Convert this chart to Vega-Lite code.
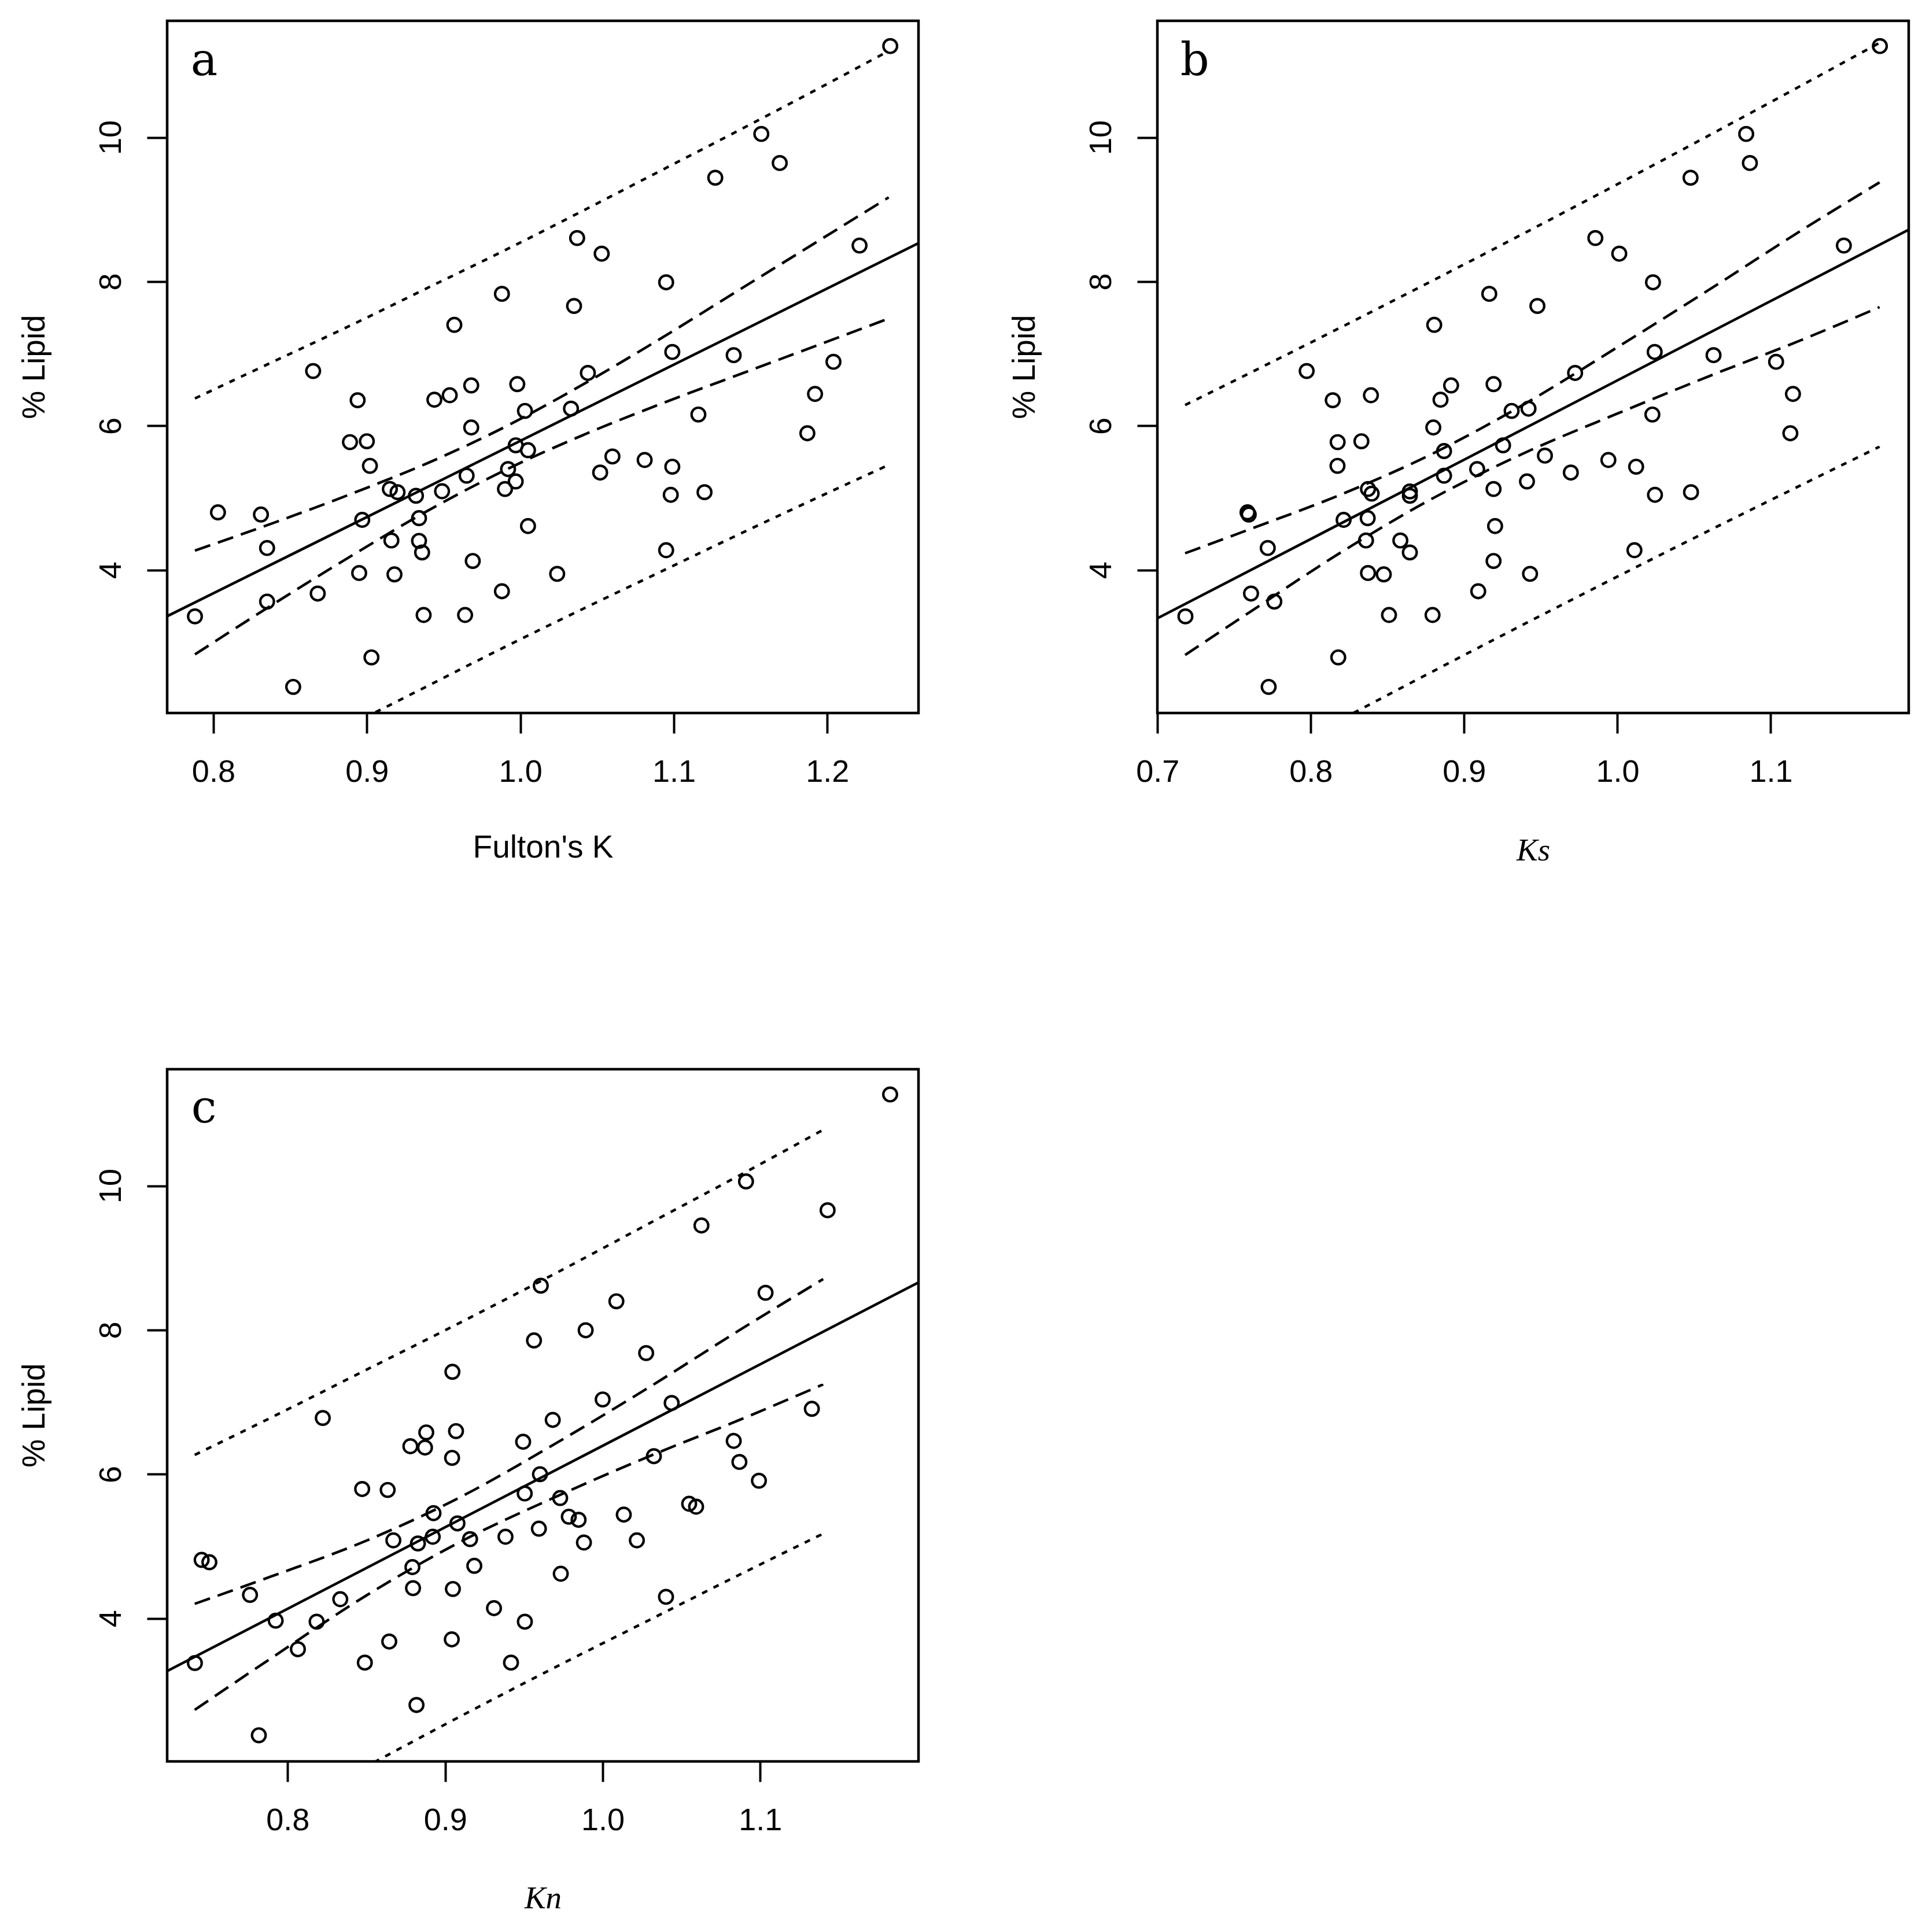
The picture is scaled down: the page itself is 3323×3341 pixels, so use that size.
{
  "$schema": "https://vega.github.io/schema/vega-lite/v6.json",
  "background": "white",
  "padding": {"left": 29, "top": 33, "right": 5, "bottom": 5},
  "bounds": "flush",
  "columns": 2,
  "spacing": {"row": 616, "column": 413},
  "datasets": {
    "pts": [
      {"p":"a","x":0.988,"y":7.83},{"p":"a","x":0.957,"y":7.40},{"p":"a","x":0.865,"y":6.76},{"p":"a","x":0.894,"y":6.355},{"p":"a","x":0.944,"y":6.362},{"p":"a","x":0.954,"y":6.424},{"p":"a","x":0.968,"y":6.56},{"p":"a","x":0.998,"y":6.578},{"p":"a","x":1.003,"y":6.207},{"p":"a","x":0.889,"y":5.774},{"p":"a","x":0.900,"y":5.786},{"p":"a","x":0.968,"y":5.977},{"p":"a","x":0.902,"y":5.445},{"p":"a","x":0.997,"y":5.73},{"p":"a","x":1.005,"y":5.662},{"p":"a","x":0.915,"y":5.124},{"p":"a","x":0.920,"y":5.08},{"p":"a","x":0.932,"y":5.03},{"p":"a","x":0.949,"y":5.093},{"p":"a","x":0.965,"y":5.309},{"p":"a","x":0.992,"y":5.40},{"p":"a","x":0.990,"y":5.124},{"p":"a","x":0.997,"y":5.229},{"p":"a","x":1.005,"y":4.61},{"p":"a","x":0.803,"y":4.80},{"p":"a","x":0.831,"y":4.77},{"p":"a","x":0.897,"y":4.696},{"p":"a","x":0.934,"y":4.72},{"p":"a","x":0.835,"y":4.306},{"p":"a","x":0.916,"y":4.41},{"p":"a","x":0.934,"y":4.405},{"p":"a","x":0.936,"y":4.244},{"p":"a","x":0.969,"y":4.126},{"p":"a","x":0.895,"y":3.959},{"p":"a","x":0.918,"y":3.94},{"p":"a","x":0.988,"y":3.706},{"p":"a","x":0.868,"y":3.674},{"p":"a","x":0.835,"y":3.563},{"p":"a","x":0.937,"y":3.377},{"p":"a","x":0.964,"y":3.377},{"p":"a","x":0.788,"y":3.358},{"p":"a","x":0.903,"y":2.789},{"p":"a","x":0.852,"y":2.38},
      {"p":"a","x":1.241,"y":11.266},{"p":"a","x":1.157,"y":10.047},{"p":"a","x":1.169,"y":9.644},{"p":"a","x":1.127,"y":9.44},{"p":"a","x":1.037,"y":8.604},{"p":"a","x":1.053,"y":8.387},{"p":"a","x":1.221,"y":8.50},{"p":"a","x":1.095,"y":7.99},{"p":"a","x":1.035,"y":7.662},{"p":"a","x":1.099,"y":7.024},{"p":"a","x":1.044,"y":6.733},{"p":"a","x":1.139,"y":6.98},{"p":"a","x":1.204,"y":6.888},{"p":"a","x":1.033,"y":6.238},{"p":"a","x":1.192,"y":6.442},{"p":"a","x":1.116,"y":6.157},{"p":"a","x":1.187,"y":5.897},{"p":"a","x":1.060,"y":5.575},{"p":"a","x":1.052,"y":5.352},{"p":"a","x":1.081,"y":5.526},{"p":"a","x":1.099,"y":5.433},{"p":"a","x":1.098,"y":5.043},{"p":"a","x":1.120,"y":5.08},{"p":"a","x":1.095,"y":4.275},{"p":"a","x":1.024,"y":3.947},
      {"p":"b","x":0.9164,"y":7.83},{"p":"b","x":0.8805,"y":7.40},{"p":"b","x":0.7973,"y":6.76},{"p":"b","x":0.8143,"y":6.355},{"p":"b","x":0.8392,"y":6.424},{"p":"b","x":0.8846,"y":6.362},{"p":"b","x":0.8915,"y":6.56},{"p":"b","x":0.9192,"y":6.578},{"p":"b","x":0.8175,"y":5.774},{"p":"b","x":0.833,"y":5.786},{"p":"b","x":0.8799,"y":5.977},{"p":"b","x":0.8174,"y":5.445},{"p":"b","x":0.9254,"y":5.73},{"p":"b","x":0.931,"y":6.207},{"p":"b","x":0.942,"y":6.238},{"p":"b","x":0.8869,"y":5.65},{"p":"b","x":0.9085,"y":5.40},{"p":"b","x":0.8373,"y":5.124},{"p":"b","x":0.8397,"y":5.06},{"p":"b","x":0.8646,"y":5.09},{"p":"b","x":0.8646,"y":5.03},{"p":"b","x":0.8869,"y":5.309},{"p":"b","x":0.9192,"y":5.124},{"p":"b","x":0.941,"y":5.229},{"p":"b","x":0.9202,"y":4.61},{"p":"b","x":0.7587,"y":4.80},{"p":"b","x":0.7595,"y":4.77},{"p":"b","x":0.8214,"y":4.696},{"p":"b","x":0.8371,"y":4.72},{"p":"b","x":0.7719,"y":4.306},{"p":"b","x":0.836,"y":4.41},{"p":"b","x":0.8584,"y":4.41},{"p":"b","x":0.8646,"y":4.244},{"p":"b","x":0.9192,"y":4.126},{"p":"b","x":0.8373,"y":3.959},{"p":"b","x":0.8476,"y":3.94},{"p":"b","x":0.943,"y":3.947},{"p":"b","x":0.9092,"y":3.706},{"p":"b","x":0.761,"y":3.674},{"p":"b","x":0.7762,"y":3.563},{"p":"b","x":0.851,"y":3.377},{"p":"b","x":0.8794,"y":3.377},{"p":"b","x":0.7182,"y":3.358},{"p":"b","x":0.8179,"y":2.789},{"p":"b","x":0.7725,"y":2.38},{"p":"b","x":0.9478,"y":7.662},{"p":"b","x":0.9527,"y":5.587},
      {"p":"b","x":1.1712,"y":11.266},{"p":"b","x":1.084,"y":10.047},{"p":"b","x":1.0864,"y":9.644},{"p":"b","x":1.0477,"y":9.44},{"p":"b","x":0.9856,"y":8.604},{"p":"b","x":1.0012,"y":8.387},{"p":"b","x":1.1477,"y":8.50},{"p":"b","x":1.0232,"y":7.99},{"p":"b","x":1.0243,"y":7.024},{"p":"b","x":0.9724,"y":6.733},{"p":"b","x":1.0627,"y":6.98},{"p":"b","x":1.1035,"y":6.888},{"p":"b","x":1.1145,"y":6.442},{"p":"b","x":1.0228,"y":6.157},{"p":"b","x":1.1128,"y":5.897},{"p":"b","x":0.9696,"y":5.352},{"p":"b","x":0.9941,"y":5.526},{"p":"b","x":1.0122,"y":5.433},{"p":"b","x":1.0245,"y":5.043},{"p":"b","x":1.048,"y":5.08},{"p":"b","x":1.0111,"y":4.275},
      {"p":"c","x":0.9607,"y":8.614},{"p":"c","x":0.9564,"y":7.855},{"p":"c","x":0.9046,"y":7.42},{"p":"c","x":0.8223,"y":6.78},{"p":"c","x":0.888,"y":6.58},{"p":"c","x":0.9069,"y":6.598},{"p":"c","x":0.8779,"y":6.388},{"p":"c","x":0.8872,"y":6.37},{"p":"c","x":0.9044,"y":6.227},{"p":"c","x":0.9495,"y":6.45},{"p":"c","x":0.8473,"y":5.795},{"p":"c","x":0.8635,"y":5.782},{"p":"c","x":0.9505,"y":5.733},{"p":"c","x":0.9602,"y":6.0},{"p":"c","x":0.8926,"y":5.46},{"p":"c","x":0.9078,"y":5.318},{"p":"c","x":0.9595,"y":5.245},{"p":"c","x":0.8671,"y":5.083},{"p":"c","x":0.8827,"y":5.04},{"p":"c","x":0.8921,"y":5.133},{"p":"c","x":0.9158,"y":5.10},{"p":"c","x":0.9383,"y":5.133},{"p":"c","x":0.7454,"y":4.812},{"p":"c","x":0.7503,"y":4.78},{"p":"c","x":0.8792,"y":4.712},{"p":"c","x":0.9185,"y":4.73},{"p":"c","x":0.7761,"y":4.327},{"p":"c","x":0.8796,"y":4.42},{"p":"c","x":0.9049,"y":4.409},{"p":"c","x":0.8334,"y":4.267},{"p":"c","x":0.931,"y":4.143},{"p":"c","x":0.7924,"y":3.97},{"p":"c","x":0.8184,"y":3.955},{"p":"c","x":0.9506,"y":3.955},{"p":"c","x":0.8645,"y":3.68},{"p":"c","x":0.9042,"y":3.71},{"p":"c","x":0.8065,"y":3.574},{"p":"c","x":0.7411,"y":3.382},{"p":"c","x":0.849,"y":3.388},{"p":"c","x":0.9418,"y":3.388},{"p":"c","x":0.8818,"y":2.8},{"p":"c","x":0.7817,"y":2.38},
      {"p":"c","x":1.1825,"y":11.266},{"p":"c","x":1.091,"y":10.06},{"p":"c","x":1.1428,"y":9.66},{"p":"c","x":1.0627,"y":9.449},{"p":"c","x":1.0087,"y":8.398},{"p":"c","x":1.1034,"y":8.516},{"p":"c","x":0.9892,"y":7.996},{"p":"c","x":1.0276,"y":7.68},{"p":"c","x":1.0,"y":7.037},{"p":"c","x":0.9683,"y":6.753},{"p":"c","x":1.0438,"y":6.988},{"p":"c","x":1.1328,"y":6.907},{"p":"c","x":1.0832,"y":6.462},{"p":"c","x":1.0868,"y":6.17},{"p":"c","x":1.0992,"y":5.91},{"p":"c","x":1.0325,"y":6.25},{"p":"c","x":0.973,"y":5.67},{"p":"c","x":0.9785,"y":5.411},{"p":"c","x":0.9847,"y":5.368},{"p":"c","x":1.0134,"y":5.44},{"p":"c","x":1.0549,"y":5.59},{"p":"c","x":1.0593,"y":5.55},{"p":"c","x":0.9881,"y":5.053},{"p":"c","x":1.0217,"y":5.083},{"p":"c","x":0.9734,"y":4.62},{"p":"c","x":1.0402,"y":4.30}
    ],
    "fit": [
      {"p":"a","x":0.7699,"y":3.36},{"p":"a","x":1.2594,"y":8.533},
      {"p":"b","x":0.6999,"y":3.33},{"p":"b","x":1.19,"y":8.72},
      {"p":"c","x":0.7235,"y":3.27},{"p":"c","x":1.2005,"y":8.66}
    ],
    "band": [
      {"p":"a","k":"cu","x":0.788,"y":4.27},{"p":"a","k":"cu","x":0.84,"y":4.66},{"p":"a","k":"cu","x":0.89,"y":5.058},{"p":"a","k":"cu","x":0.94,"y":5.487},{"p":"a","k":"cu","x":0.99,"y":5.985},{"p":"a","k":"cu","x":1.04,"y":6.564},{"p":"a","k":"cu","x":1.09,"y":7.192},{"p":"a","k":"cu","x":1.14,"y":7.851},{"p":"a","k":"cu","x":1.19,"y":8.509},{"p":"a","k":"cu","x":1.24,"y":9.168},
      {"p":"a","k":"cl","x":0.788,"y":2.83},{"p":"a","k":"cl","x":0.84,"y":3.54},{"p":"a","k":"cl","x":0.89,"y":4.198},{"p":"a","k":"cl","x":0.94,"y":4.827},{"p":"a","k":"cl","x":0.99,"y":5.385},{"p":"a","k":"cl","x":1.04,"y":5.864},{"p":"a","k":"cl","x":1.09,"y":6.292},{"p":"a","k":"cl","x":1.14,"y":6.691},{"p":"a","k":"cl","x":1.19,"y":7.089},{"p":"a","k":"cl","x":1.24,"y":7.488},
      {"p":"a","k":"pu","x":0.788,"y":6.38},{"p":"a","k":"pu","x":0.84,"y":6.90},{"p":"a","k":"pu","x":0.89,"y":7.398},{"p":"a","k":"pu","x":0.94,"y":7.917},{"p":"a","k":"pu","x":0.99,"y":8.435},{"p":"a","k":"pu","x":1.04,"y":8.974},{"p":"a","k":"pu","x":1.09,"y":9.522},{"p":"a","k":"pu","x":1.14,"y":10.071},{"p":"a","k":"pu","x":1.19,"y":10.629},{"p":"a","k":"pu","x":1.24,"y":11.198},
      {"p":"a","k":"pl","x":0.788,"y":0.72},{"p":"a","k":"pl","x":0.84,"y":1.30},{"p":"a","k":"pl","x":0.89,"y":1.858},{"p":"a","k":"pl","x":0.94,"y":2.397},{"p":"a","k":"pl","x":0.99,"y":2.935},{"p":"a","k":"pl","x":1.04,"y":3.454},{"p":"a","k":"pl","x":1.09,"y":3.962},{"p":"a","k":"pl","x":1.14,"y":4.471},{"p":"a","k":"pl","x":1.19,"y":4.969},{"p":"a","k":"pl","x":1.24,"y":5.458},
      {"p":"b","k":"cu","x":0.718,"y":4.233},{"p":"b","k":"cu","x":0.76,"y":4.565},{"p":"b","k":"cu","x":0.82,"y":5.05},{"p":"b","k":"cu","x":0.88,"y":5.62},{"p":"b","k":"cu","x":0.94,"y":6.31},{"p":"b","k":"cu","x":1.0,"y":7.09},{"p":"b","k":"cu","x":1.06,"y":7.89},{"p":"b","k":"cu","x":1.12,"y":8.71},{"p":"b","k":"cu","x":1.171,"y":9.376},
      {"p":"b","k":"cl","x":0.718,"y":2.823},{"p":"b","k":"cl","x":0.76,"y":3.415},{"p":"b","k":"cl","x":0.82,"y":4.25},{"p":"b","k":"cl","x":0.88,"y":5.0},{"p":"b","k":"cl","x":0.94,"y":5.63},{"p":"b","k":"cl","x":1.0,"y":6.17},{"p":"b","k":"cl","x":1.06,"y":6.69},{"p":"b","k":"cl","x":1.12,"y":7.19},{"p":"b","k":"cl","x":1.171,"y":7.646},
      {"p":"b","k":"pu","x":0.718,"y":6.288},{"p":"b","k":"pu","x":0.76,"y":6.73},{"p":"b","k":"pu","x":0.82,"y":7.37},{"p":"b","k":"pu","x":0.88,"y":8.02},{"p":"b","k":"pu","x":0.94,"y":8.68},{"p":"b","k":"pu","x":1.0,"y":9.35},{"p":"b","k":"pu","x":1.06,"y":10.03},{"p":"b","k":"pu","x":1.12,"y":10.72},{"p":"b","k":"pu","x":1.171,"y":11.311},
      {"p":"b","k":"pl","x":0.718,"y":0.768},{"p":"b","k":"pl","x":0.76,"y":1.25},{"p":"b","k":"pl","x":0.82,"y":1.93},{"p":"b","k":"pl","x":0.88,"y":2.60},{"p":"b","k":"pl","x":0.94,"y":3.26},{"p":"b","k":"pl","x":1.0,"y":3.91},{"p":"b","k":"pl","x":1.06,"y":4.55},{"p":"b","k":"pl","x":1.12,"y":5.18},{"p":"b","k":"pl","x":1.171,"y":5.711},
      {"p":"c","k":"cu","x":0.741,"y":4.203},{"p":"c","k":"cu","x":0.79,"y":4.586},{"p":"c","k":"cu","x":0.85,"y":5.079},{"p":"c","k":"cu","x":0.91,"y":5.687},{"p":"c","k":"cu","x":0.97,"y":6.425},{"p":"c","k":"cu","x":1.03,"y":7.213},{"p":"c","k":"cu","x":1.09,"y":8.041},{"p":"c","k":"cu","x":1.14,"y":8.706},
      {"p":"c","k":"cl","x":0.741,"y":2.733},{"p":"c","k":"cl","x":0.79,"y":3.456},{"p":"c","k":"cl","x":0.85,"y":4.319},{"p":"c","k":"cl","x":0.91,"y":5.067},{"p":"c","k":"cl","x":0.97,"y":5.685},{"p":"c","k":"cl","x":1.03,"y":6.253},{"p":"c","k":"cl","x":1.09,"y":6.781},{"p":"c","k":"cl","x":1.14,"y":7.246},
      {"p":"c","k":"pu","x":0.741,"y":6.268},{"p":"c","k":"pu","x":0.79,"y":6.791},{"p":"c","k":"pu","x":0.85,"y":7.449},{"p":"c","k":"pu","x":0.91,"y":8.107},{"p":"c","k":"pu","x":0.97,"y":8.785},{"p":"c","k":"pu","x":1.03,"y":9.483},{"p":"c","k":"pu","x":1.09,"y":10.181},{"p":"c","k":"pu","x":1.14,"y":10.776},
      {"p":"c","k":"pl","x":0.741,"y":0.668},{"p":"c","k":"pl","x":0.79,"y":1.251},{"p":"c","k":"pl","x":0.85,"y":1.949},{"p":"c","k":"pl","x":0.91,"y":2.647},{"p":"c","k":"pl","x":0.97,"y":3.325},{"p":"c","k":"pl","x":1.03,"y":3.983},{"p":"c","k":"pl","x":1.09,"y":4.641},{"p":"c","k":"pl","x":1.14,"y":5.176}
    ],
    "lab": [{"p":"a","t":"a"},{"p":"b","t":"b"},{"p":"c","t":"c"}]
  },
  "concat": [
    {
      "width": 1299, "height": 1197,
      "layer": [
        {"data": {"name": "pts"}, "transform": [{"filter": "datum.p === 'a'"}], "mark": {"type": "point", "shape": "circle", "filled": false, "color": "black", "strokeWidth": 4.2, "size": 560, "opacity": 1},
         "encoding": {
           "x": {"field": "x", "type": "quantitative", "title": "Fulton's K", "scale": {"domain": [0.7699, 1.2594], "nice": false, "zero": false}, "axis": {"values": [0.8, 0.9, 1.0, 1.1, 1.2], "format": ".1f"}},
           "y": {"field": "y", "type": "quantitative", "title": "% Lipid", "scale": {"domain": [2.018, 11.616], "nice": false, "zero": false}, "axis": {"values": [4, 6, 8, 10], "format": ".0f"}}
         }},
        {"data": {"name": "fit"}, "transform": [{"filter": "datum.p === 'a'"}], "mark": {"type": "line", "color": "black", "strokeWidth": 4.5, "clip": true},
         "encoding": {"x": {"field": "x", "type": "quantitative", "title": "Fulton's K"}, "y": {"field": "y", "type": "quantitative", "title": "% Lipid"}}},
        {"data": {"name": "band"}, "transform": [{"filter": "datum.p === 'a' && (datum.k === 'cu' || datum.k === 'cl')"}], "mark": {"type": "line", "color": "black", "strokeWidth": 4.5, "strokeDash": [28, 14], "interpolate": "monotone", "clip": true},
         "encoding": {"x": {"field": "x", "type": "quantitative", "title": "Fulton's K"}, "y": {"field": "y", "type": "quantitative", "title": "% Lipid"}, "detail": {"field": "k"}}},
        {"data": {"name": "band"}, "transform": [{"filter": "datum.p === 'a' && (datum.k === 'pu' || datum.k === 'pl')"}], "mark": {"type": "line", "color": "black", "strokeWidth": 4.5, "strokeDash": [10, 12], "interpolate": "monotone", "clip": true},
         "encoding": {"x": {"field": "x", "type": "quantitative", "title": "Fulton's K"}, "y": {"field": "y", "type": "quantitative", "title": "% Lipid"}, "detail": {"field": "k"}}},
        {"data": {"name": "lab"}, "transform": [{"filter": "datum.p === 'a'"}], "mark": {"type": "text", "font": "DejaVu Serif", "fontSize": 78, "align": "left", "baseline": "alphabetic", "color": "black"},
         "encoding": {"x": {"datum": 0.7853, "type": "quantitative"}, "y": {"datum": 10.862, "type": "quantitative"}, "text": {"field": "t"}}}
      ]
    },
    {
      "width": 1299, "height": 1197,
      "layer": [
        {"data": {"name": "pts"}, "transform": [{"filter": "datum.p === 'b'"}], "mark": {"type": "point", "shape": "circle", "filled": false, "color": "black", "strokeWidth": 4.2, "size": 560, "opacity": 1},
         "encoding": {
           "x": {"field": "x", "type": "quantitative", "title": "Ks", "scale": {"domain": [0.6999, 1.19], "nice": false, "zero": false}, "axis": {"values": [0.7, 0.8, 0.9, 1.0, 1.1], "format": ".1f", "titleFont": "Liberation Serif", "titleFontStyle": "italic", "titleY": 254}},
           "y": {"field": "y", "type": "quantitative", "title": "% Lipid", "scale": {"domain": [2.018, 11.616], "nice": false, "zero": false}, "axis": {"values": [4, 6, 8, 10], "format": ".0f"}}
         }},
        {"data": {"name": "fit"}, "transform": [{"filter": "datum.p === 'b'"}], "mark": {"type": "line", "color": "black", "strokeWidth": 4.5, "clip": true},
         "encoding": {"x": {"field": "x", "type": "quantitative", "title": "Ks"}, "y": {"field": "y", "type": "quantitative", "title": "% Lipid"}}},
        {"data": {"name": "band"}, "transform": [{"filter": "datum.p === 'b' && (datum.k === 'cu' || datum.k === 'cl')"}], "mark": {"type": "line", "color": "black", "strokeWidth": 4.5, "strokeDash": [28, 14], "interpolate": "monotone", "clip": true},
         "encoding": {"x": {"field": "x", "type": "quantitative", "title": "Ks"}, "y": {"field": "y", "type": "quantitative", "title": "% Lipid"}, "detail": {"field": "k"}}},
        {"data": {"name": "band"}, "transform": [{"filter": "datum.p === 'b' && (datum.k === 'pu' || datum.k === 'pl')"}], "mark": {"type": "line", "color": "black", "strokeWidth": 4.5, "strokeDash": [10, 12], "interpolate": "monotone", "clip": true},
         "encoding": {"x": {"field": "x", "type": "quantitative", "title": "Ks"}, "y": {"field": "y", "type": "quantitative", "title": "% Lipid"}, "detail": {"field": "k"}}},
        {"data": {"name": "lab"}, "transform": [{"filter": "datum.p === 'b'"}], "mark": {"type": "text", "font": "DejaVu Serif", "fontSize": 78, "align": "left", "baseline": "alphabetic", "color": "black"},
         "encoding": {"x": {"datum": 0.7149, "type": "quantitative"}, "y": {"datum": 10.862, "type": "quantitative"}, "text": {"field": "t"}}}
      ]
    },
    {
      "width": 1299, "height": 1197,
      "layer": [
        {"data": {"name": "pts"}, "transform": [{"filter": "datum.p === 'c'"}], "mark": {"type": "point", "shape": "circle", "filled": false, "color": "black", "strokeWidth": 4.2, "size": 560, "opacity": 1},
         "encoding": {
           "x": {"field": "x", "type": "quantitative", "title": "Kn", "scale": {"domain": [0.7235, 1.2005], "nice": false, "zero": false}, "axis": {"values": [0.8, 0.9, 1.0, 1.1], "format": ".1f", "titleFont": "Liberation Serif", "titleFontStyle": "italic", "titleY": 253}},
           "y": {"field": "y", "type": "quantitative", "title": "% Lipid", "scale": {"domain": [2.018, 11.616], "nice": false, "zero": false}, "axis": {"values": [4, 6, 8, 10], "format": ".0f"}}
         }},
        {"data": {"name": "fit"}, "transform": [{"filter": "datum.p === 'c'"}], "mark": {"type": "line", "color": "black", "strokeWidth": 4.5, "clip": true},
         "encoding": {"x": {"field": "x", "type": "quantitative", "title": "Kn"}, "y": {"field": "y", "type": "quantitative", "title": "% Lipid"}}},
        {"data": {"name": "band"}, "transform": [{"filter": "datum.p === 'c' && (datum.k === 'cu' || datum.k === 'cl')"}], "mark": {"type": "line", "color": "black", "strokeWidth": 4.5, "strokeDash": [28, 14], "interpolate": "monotone", "clip": true},
         "encoding": {"x": {"field": "x", "type": "quantitative", "title": "Kn"}, "y": {"field": "y", "type": "quantitative", "title": "% Lipid"}, "detail": {"field": "k"}}},
        {"data": {"name": "band"}, "transform": [{"filter": "datum.p === 'c' && (datum.k === 'pu' || datum.k === 'pl')"}], "mark": {"type": "line", "color": "black", "strokeWidth": 4.5, "strokeDash": [10, 12], "interpolate": "monotone", "clip": true},
         "encoding": {"x": {"field": "x", "type": "quantitative", "title": "Kn"}, "y": {"field": "y", "type": "quantitative", "title": "% Lipid"}, "detail": {"field": "k"}}},
        {"data": {"name": "lab"}, "transform": [{"filter": "datum.p === 'c'"}], "mark": {"type": "text", "font": "DejaVu Serif", "fontSize": 78, "align": "left", "baseline": "alphabetic", "color": "black"},
         "encoding": {"x": {"datum": 0.7388, "type": "quantitative"}, "y": {"datum": 10.88, "type": "quantitative"}, "text": {"field": "t"}}}
      ]
    }
  ],
  "config": {
    "view": {"stroke": "black", "strokeWidth": 4.5},
    "axis": {
      "grid": false, "domain": false, "ticks": true, "tickColor": "black", "tickWidth": 4, "tickSize": 35,
      "labelFont": "Liberation Sans", "labelFontSize": 54, "labelColor": "black", "labelFlush": false, "labelOverlap": false,
      "titleFont": "Liberation Sans", "titleFontSize": 55, "titleFontWeight": "normal", "titleColor": "black"
    },
    "axisX": {"labelPadding": 40, "titleY": 249, "titleBaseline": "alphabetic"},
    "axisY": {"labelAngle": 270, "labelAlign": "center", "labelBaseline": "bottom", "labelPadding": 35, "titleAngle": 270, "titleX": -213, "titleY": 598, "titleBaseline": "alphabetic", "titleAlign": "center"}
  }
}
